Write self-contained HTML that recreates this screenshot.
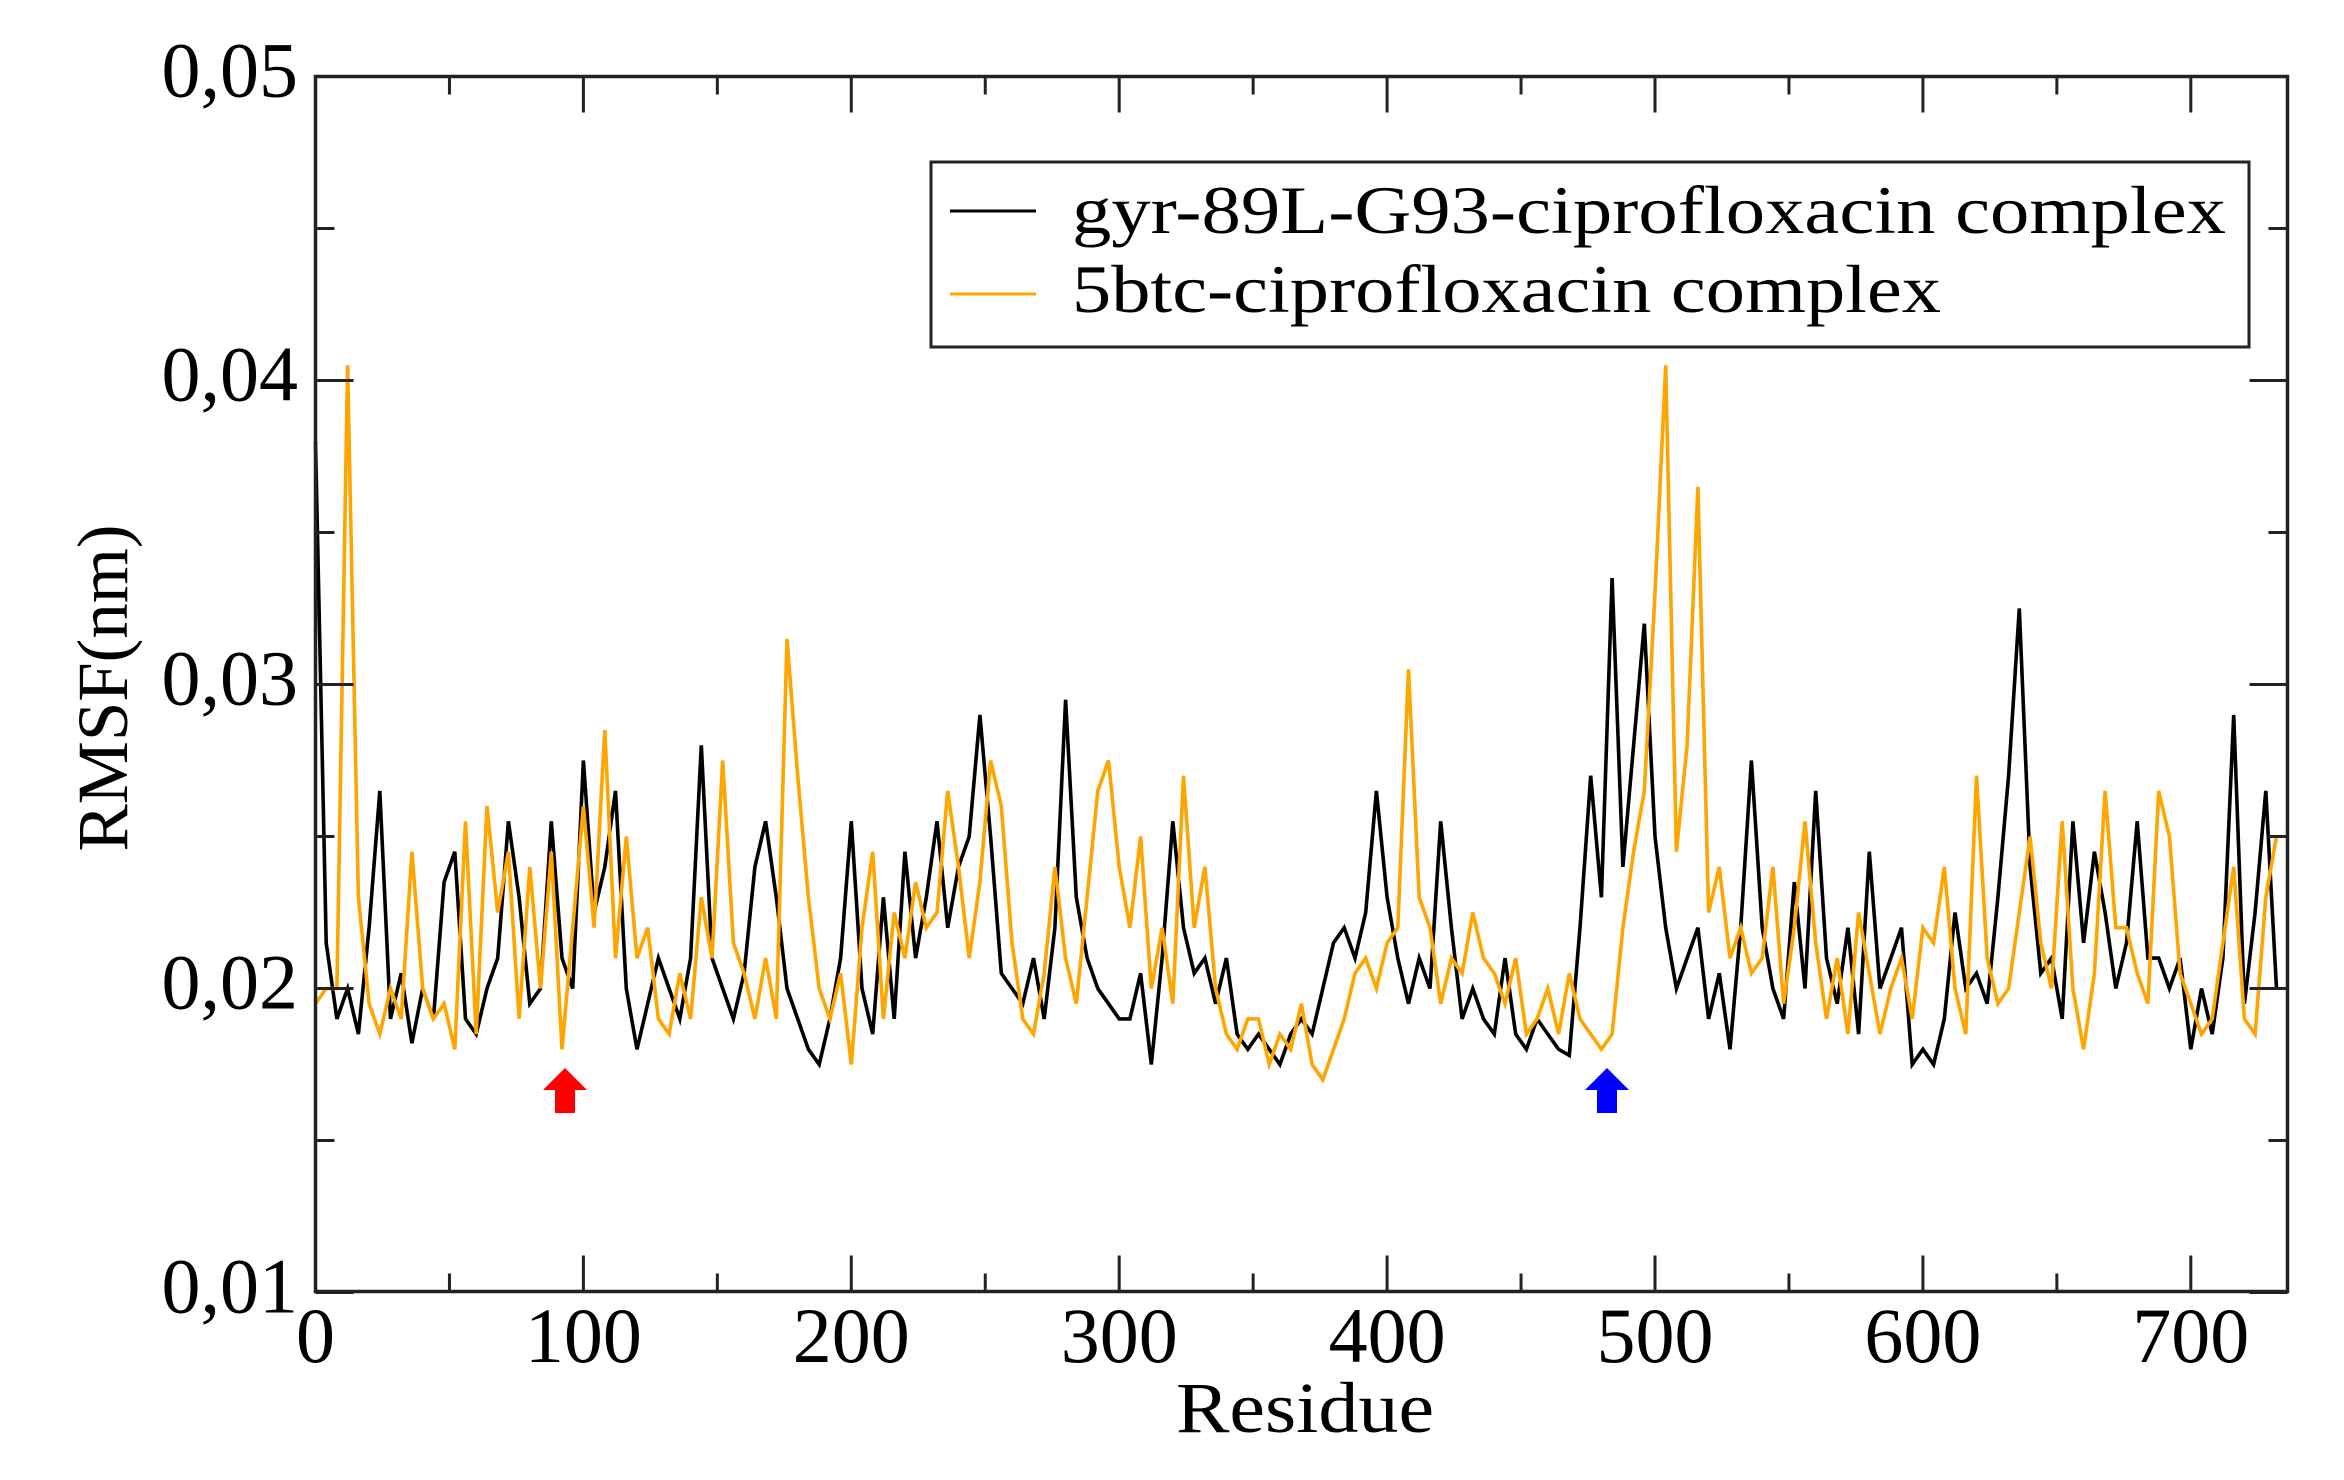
<!DOCTYPE html>
<html><head><meta charset="utf-8"><style>
html,body{margin:0;padding:0;background:#fff;}
svg{display:block;font-family:"Liberation Serif",serif;}
</style></head><body>
<svg id="chart" width="2344" height="1480" viewBox="0 0 2344 1480" xmlns="http://www.w3.org/2000/svg">
<rect width="2344" height="1480" fill="#fff"/>
<g id="series"></g>
<g id="axes"></g>
<rect x="315.5" y="76.5" width="1972" height="1215" fill="none" stroke="#222" stroke-width="3.5"/>
<g id="legend">
<rect x="931" y="162" width="1318" height="185" fill="#fff" stroke="#222" stroke-width="3"/>
<line x1="950" y1="211" x2="1036" y2="211" stroke="#000" stroke-width="3"/>
<text x="1072" y="233" font-size="68" textLength="1154" lengthAdjust="spacingAndGlyphs">gyr-89L-G93-ciprofloxacin complex</text>
<line x1="950" y1="294" x2="1036" y2="294" stroke="#FFA500" stroke-width="3"/>
<text x="1072" y="312" font-size="68" textLength="869" lengthAdjust="spacingAndGlyphs">5btc-ciprofloxacin complex</text>
</g>
<text transform="translate(127,688) rotate(-90)" text-anchor="middle" font-size="72" textLength="327" lengthAdjust="spacingAndGlyphs">RMSF(nm)</text>
<text x="1305" y="1432" text-anchor="middle" font-size="72" textLength="258" lengthAdjust="spacingAndGlyphs">Residue</text>
<polygon points="565,1068 587,1090 575,1090 575,1113 555,1113 555,1090 543,1090" fill="#f00"/>
<polygon points="1607,1068 1629,1090 1617,1090 1617,1113 1597,1113 1597,1090 1585,1090" fill="#00f"/>
</svg>
<script>
const residueStep = 4;
const xTickValues = [0,100,200,300,400,500,600,700];
const xTickLabels = ["0","100","200","300","400","500","600","700"];
const yTickValues = [0.01,0.02,0.03,0.04,0.05];
const yTickLabels = ["0,01","0,02","0,03","0,04","0,05"];
const gyrValues = [38,21.5,19,20,18.5,22,26.5,19,20.5,18.2,20,19,23.5,24.5,19,18.5,20,21,25.5,23,19.5,20,25.5,21,20,27.5,22.5,24,26.5,20,18,19.5,21,20,19,21,28,21,20,19,20.5,24,25.5,23,20,19,18,17.5,19,21,25.5,20,18.5,23,19,24.5,21,23,25.5,22,24,25,29,25,20.5,20,19.5,21,19,22,29.5,23,21,20,19.5,19,19,20.5,17.5,21,25.5,22,20.5,21,19.5,21,18.5,18,18.5,18,17.5,18.5,19,18.5,20,21.5,22,21,22.5,26.5,23,21,19.5,21,20,25.5,22,19,20,19,18.5,21,18.5,18,19,18.5,18,17.8,22,27,23,33.5,24,28,32,25,22,20,21,22,19,20.5,18,22,27.5,22,20,19,23.5,20,26.5,21,19.5,22,18.5,24.5,20,21,22,17.5,18,17.5,19,22.5,20,20.5,19.5,23,27,32.5,24,20.5,21,19,25.5,21.5,24.5,22.5,20,21.5,25.5,21,21,20,21,18,20,18.5,21,29,19.5,22.5,26.5,20];
const btcValues = [19.5,20,20,40.5,23,19.5,18.5,20,19,24.5,20,19,19.5,18,25.5,18.5,26,22.5,24.5,19,24,20,24.5,18,22,26,22,28.5,21,25,21,22,19,18.5,20.5,19,23,21,27.5,21.5,20.5,19,21,19,31.5,27,23,20,19,20.5,17.5,22,24.5,19,22.5,21,23.5,22,22.5,26.5,24,21,23.5,27.5,26,21.5,19,18.5,20.5,24,21,19.5,23,26.5,27.5,24,22,25,20,22,19.5,27,22,24,20,18.5,18,19,19,17.5,18.5,18,19.5,17.5,17,18,19,20.5,21,20,21.5,22,30.5,23,22,19.5,21,20.5,22.5,21,20.5,19.5,21,18.5,19,20,18.5,20.5,19,18.5,18,18.5,22,24.5,26.5,33,40.5,24.5,28,36.5,22.5,24,21,22,20.5,21,24,19.5,22,25.5,21.5,19,21,18.5,22.5,20.5,18.5,20,21,19,22,21.5,24,20,18.5,27,21,19.5,20,22.5,25,21.5,20,25.5,20,18,20.5,26.5,22,22,20.5,19.5,26.5,25,20.5,19.5,18.5,19,21.5,24,19,18.5,23,25];

const X0=315.5, PXU=2.679, Y0=76.5, YMAX=0.05, PXV=30400;
function xScale(r){return X0 + r*PXU;}
function yScale(v){return Y0 + (YMAX - v)*PXV;}
const NS="http://www.w3.org/2000/svg";
const seriesG=document.getElementById('series');
function drawSeries(vals,color,name){
  const pts=vals.map((v,i)=>xScale(i*residueStep).toFixed(1)+","+yScale(v/1000).toFixed(1)).join(" ");
  const pl=document.createElementNS(NS,'polyline');
  pl.setAttribute('points',pts);
  pl.setAttribute('fill','none');
  pl.setAttribute('stroke',color);
  pl.setAttribute('stroke-width','3.6');
  pl.setAttribute('stroke-linejoin','miter');
  
  
  seriesG.appendChild(pl);
}
drawSeries(gyrValues,'#000','series-gyr-89L-G93');
drawSeries(btcValues,'#FFA500','series-5btc');

const axes=document.getElementById('axes');
const TOP=76.5, BOT=1291.5, LEFT=315.5, RIGHT=2287.5;
function line(x1,y1,x2,y2,name){
  const l=document.createElementNS(NS,'line');
  l.setAttribute('x1',x1);l.setAttribute('y1',y1);l.setAttribute('x2',x2);l.setAttribute('y2',y2);
  l.setAttribute('stroke','#222');l.setAttribute('stroke-width','3');
  
  
  axes.appendChild(l);
}
function text(x,y,s,anchor,name){
  const t=document.createElementNS(NS,'text');
  t.setAttribute('x',x);t.setAttribute('y',y);t.setAttribute('font-size','78');
  t.setAttribute('text-anchor',anchor);t.textContent=s;
  
  
  axes.appendChild(t);
}
for(let r=0;r<=700;r+=50){
  const x=xScale(r), L=(r%100===0)?36:18;
  line(x,BOT,x,BOT-L,'x-tick');
  line(x,TOP,x,TOP+L,'x-tick-top');
}
xTickValues.forEach((v,i)=>text(xScale(v),1362,xTickLabels[i],'middle','x-tick-label'));
for(let k=0;k<=8;k++){
  const v=0.01+k*0.005, y=yScale(v), L=(k%2===0)?38:19;
  line(LEFT,y,LEFT+L,y,'y-tick');
  line(RIGHT,y,RIGHT-L,y,'y-tick-right');
}
yTickValues.forEach((v,i)=>text(298,yScale(v)+20,yTickLabels[i],'end','y-tick-label'));
</script>
</body></html>
